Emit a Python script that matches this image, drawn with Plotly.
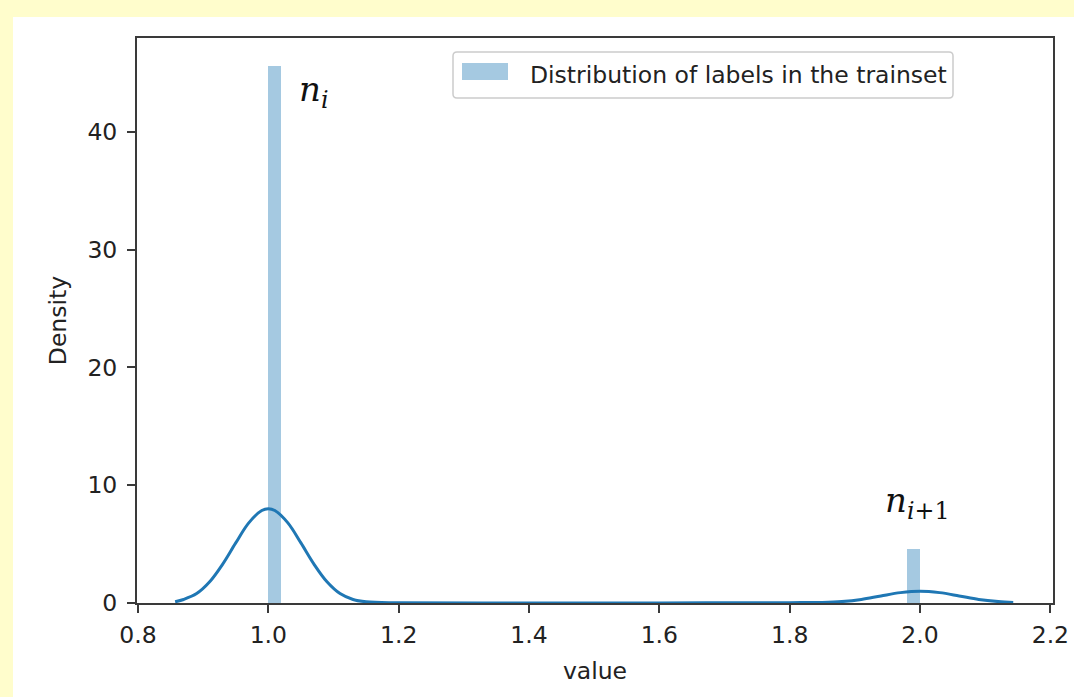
import plotly.graph_objects as go

# Histogram bins (density)
bin_centers = [1.01, 1.99]
bin_heights = [45.6, 4.6]
bin_width = 0.02

# KDE curve
kde_x = [0.857, 0.87, 0.89, 0.91, 0.93, 0.95, 0.97, 0.99, 1.0, 1.01, 1.03, 1.05,
         1.07, 1.09, 1.11, 1.13, 1.15, 1.2, 1.4, 1.6, 1.8, 1.85, 1.88, 1.91, 1.94,
         1.97, 2.0, 2.03, 2.06, 2.09, 2.12, 2.143]
kde_y = [0.1, 0.3, 0.8, 1.8, 3.3, 5.1, 6.8, 7.85, 8.0, 7.85, 6.8, 5.1,
         3.3, 1.8, 0.8, 0.3, 0.1, 0.02, 0.01, 0.01, 0.03, 0.05, 0.12, 0.3, 0.6,
         0.88, 1.0, 0.88, 0.6, 0.3, 0.12, 0.05]

x_ticks = [0.8, 1.0, 1.2, 1.4, 1.6, 1.8, 2.0, 2.2]
y_ticks = [0, 10, 20, 30, 40]
legend_label = "Distribution of labels in the trainset"

BAR_COLOR = "rgba(31,119,180,0.4)"
LINE_COLOR = "#1f77b4"
AX_COLOR = "#3a3a3a"
TXT = "#222222"
FONT = "DejaVu Sans"
YELLOW = "#FFFDCC"

W, H = 1074, 697
L, R, T, B = 137, 21, 38, 94
PW, PH = W - L - R, H - T - B


def px(x):
    return (x - L) / PW


def py(y):
    return (H - B - y) / PH


fig = go.Figure()
fig.add_trace(go.Bar(x=bin_centers, y=bin_heights, width=bin_width,
                     marker=dict(color=BAR_COLOR, line=dict(width=0)),
                     name=legend_label, showlegend=False))
fig.add_trace(go.Scatter(x=kde_x, y=kde_y, mode="lines",
                         line=dict(color=LINE_COLOR, width=3, shape="spline", smoothing=1.0),
                         showlegend=False))

shapes = []
# yellow page frame (left and top strips)
shapes.append(dict(type="rect", xref="paper", yref="paper", layer="below",
                   x0=px(-20), x1=px(13), y0=py(720), y1=py(-20),
                   fillcolor=YELLOW, line=dict(width=0)))
shapes.append(dict(type="rect", xref="paper", yref="paper", layer="below",
                   x0=px(-20), x1=px(1100), y0=py(17), y1=py(-20),
                   fillcolor=YELLOW, line=dict(width=0)))

# legend box with rounded corners
lx0, lx1, ly0, ly1 = px(453), px(953), py(98), py(52)
rx, ry = 4 / PW, 4 / PH
path = (f"M {lx0+rx},{ly0} L {lx1-rx},{ly0} Q {lx1},{ly0} {lx1},{ly0+ry} "
        f"L {lx1},{ly1-ry} Q {lx1},{ly1} {lx1-rx},{ly1} L {lx0+rx},{ly1} "
        f"Q {lx0},{ly1} {lx0},{ly1-ry} L {lx0},{ly0+ry} Q {lx0},{ly0} {lx0+rx},{ly0} Z")
shapes.append(dict(type="path", xref="paper", yref="paper", path=path,
                   fillcolor="rgba(255,255,255,0.8)", line=dict(color="#cccccc", width=1.5)))
shapes.append(dict(type="rect", xref="paper", yref="paper",
                   x0=px(462), x1=px(508), y0=py(80), y1=py(63),
                   fillcolor=BAR_COLOR, line=dict(width=0)))

annotations = [
    dict(xref="paper", yref="paper", x=px(528), y=py(75), xanchor="left", yanchor="middle",
         text=legend_label, showarrow=False, font=dict(family=FONT, size=23.5, color=TXT)),
    dict(xref="paper", yref="paper", x=px(297), y=py(92), xanchor="left", yanchor="middle",
         text="<i>n</i><sub><i>i</i></sub>", showarrow=False,
         font=dict(family="DejaVu Serif", size=34, color="#111111")),
    dict(xref="paper", yref="paper", x=px(883), y=py(503), xanchor="left", yanchor="middle",
         text="<i>n</i><sub><i>i</i>+1</sub>", showarrow=False,
         font=dict(family="DejaVu Serif", size=34, color="#111111")),
]

axis_common = dict(showline=True, linecolor=AX_COLOR, linewidth=2, mirror=True,
                   ticks="outside", ticklen=8, tickwidth=2, tickcolor=AX_COLOR,
                   showgrid=False, zeroline=False, automargin=False,
                   tickfont=dict(family=FONT, size=23.5, color=TXT))

fig.update_layout(
    width=W, height=H, autosize=False,
    margin=dict(l=L, r=R, t=T, b=B, autoexpand=False),
    paper_bgcolor="white",
    plot_bgcolor="white",
    bargap=0,
    shapes=shapes,
    annotations=annotations,
    xaxis=dict(range=[0.7985, 2.204], tickvals=x_ticks, ticktext=[f"{v:.1f}" for v in x_ticks],
               ticklabelstandoff=2,
               title=dict(text="value", font=dict(family=FONT, size=23.5, color=TXT), standoff=14),
               **axis_common),
    yaxis=dict(range=[0, 47.96], tickvals=y_ticks, ticktext=[str(v) for v in y_ticks],
               ticklabelstandoff=5,
               title=dict(text="Density", font=dict(family=FONT, size=23.5, color=TXT), standoff=14),
               **axis_common),
)

fig.write_html("out.html", config={"displayModeBar": False},
               post_script="document.body.style.margin='0';document.body.style.overflow='hidden';")
